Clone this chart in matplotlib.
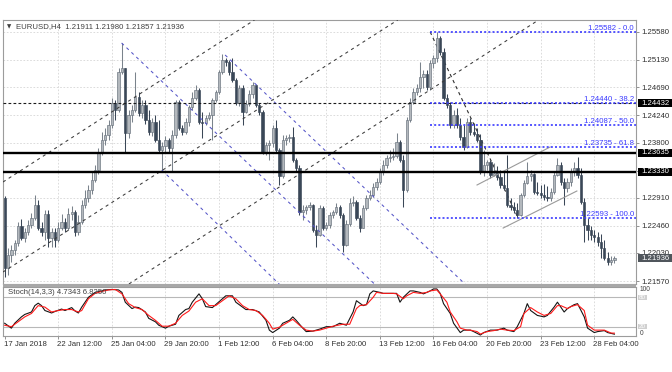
import numpy as np
import matplotlib
matplotlib.use("Agg")
import matplotlib.pyplot as plt
from matplotlib import transforms
from matplotlib.patches import Rectangle

plt.rcParams['font.family'] = ['Liberation Sans', 'DejaVu Sans']

# ---------------- data (EURUSD H4) ----------------
first_open = 1.22907
closes = [1.21780, 1.21990, 1.22070, 1.22183, 1.22456, 1.22263, 1.22360, 1.22473, 1.22585, 1.22795,
          1.22424, 1.22360, 1.22650, 1.22263, 1.22360, 1.22231, 1.22424, 1.22521, 1.22424, 1.22650,
          1.22682, 1.22360, 1.22521, 1.22795, 1.22907, 1.23036, 1.23197, 1.23358, 1.23648, 1.23841,
          1.23922, 1.24083, 1.24437, 1.24324, 1.24936, 1.25000, 1.23954, 1.24244, 1.24324, 1.24533,
          1.24276, 1.24405, 1.24163, 1.23970, 1.24131, 1.23841, 1.23680, 1.23744, 1.23841, 1.23712,
          1.23922, 1.24453, 1.24034, 1.23970, 1.24131, 1.24372, 1.24517, 1.24646, 1.24131, 1.24115,
          1.24195, 1.24244, 1.24485, 1.24614, 1.24936, 1.25129, 1.25097, 1.24936, 1.24807, 1.24437,
          1.24678, 1.24292, 1.24421, 1.24582, 1.24727, 1.24405, 1.24292, 1.23648, 1.23761, 1.23793,
          1.24034, 1.23680, 1.23261, 1.23841, 1.23873, 1.23889, 1.23519, 1.23390, 1.22682, 1.22714,
          1.22762, 1.22795, 1.22392, 1.22312, 1.22746, 1.22424, 1.22473, 1.22634, 1.22682, 1.22762,
          1.22634, 1.22151, 1.22489, 1.22827, 1.22843, 1.22585, 1.22424, 1.22746, 1.22907, 1.22956,
          1.23084, 1.23165, 1.23326, 1.23439, 1.23551, 1.23568, 1.23584, 1.23809, 1.23519, 1.23036,
          1.24163, 1.24453, 1.24614, 1.24678, 1.24855, 1.24904, 1.24694, 1.25081, 1.25161, 1.25483,
          1.25258, 1.24517, 1.24405, 1.24083, 1.24244, 1.24083, 1.23889, 1.23728, 1.24131, 1.23970,
          1.23938, 1.23841, 1.23326, 1.23439, 1.23487, 1.23278, 1.23310, 1.23245, 1.23117, 1.23068,
          1.22795, 1.22762, 1.22714, 1.22634, 1.22956, 1.23149, 1.23261, 1.23294, 1.23004, 1.22988,
          1.22956, 1.22923, 1.22907, 1.23004, 1.23278, 1.23439, 1.23165, 1.23068, 1.23165, 1.23326,
          1.23390, 1.23278, 1.22843, 1.22473, 1.22392, 1.22312, 1.22279, 1.22199, 1.22102, 1.21941,
          1.21877, 1.21911, 1.21936]
highs = [1.22939, 1.22102, 1.22151, 1.22231, 1.22521, 1.22569, 1.22424, 1.22553, 1.22666, 1.22956,
         1.22875, 1.22521, 1.22714, 1.22714, 1.22424, 1.22424, 1.22521, 1.22650, 1.22585, 1.22746,
         1.22778, 1.22714, 1.22634, 1.22875, 1.23036, 1.23117, 1.23326, 1.23439, 1.23712, 1.23970,
         1.24034, 1.24163, 1.24517, 1.24485, 1.25000, 1.25403, 1.25000, 1.24324, 1.24405, 1.24936,
         1.24614, 1.24485, 1.24485, 1.24324, 1.24195, 1.24244, 1.24163, 1.23809, 1.23905, 1.23873,
         1.24002, 1.24485, 1.24485, 1.24083, 1.24195, 1.24405, 1.24614, 1.24727, 1.24678, 1.24292,
         1.24244, 1.24292, 1.24517, 1.24646, 1.24968, 1.25226, 1.25161, 1.25129, 1.25161, 1.24839,
         1.24727, 1.24727, 1.24485, 1.24646, 1.24775, 1.24727, 1.24437, 1.24324, 1.23809, 1.23841,
         1.24083, 1.24163, 1.23712, 1.23922, 1.23922, 1.23938, 1.24050, 1.23551, 1.23439, 1.22795,
         1.22795, 1.22843, 1.22811, 1.22473, 1.22795, 1.22778, 1.22521, 1.22682, 1.22714, 1.22827,
         1.22795, 1.22666, 1.22553, 1.22907, 1.22939, 1.22875, 1.22634, 1.22795, 1.22956, 1.23036,
         1.23149, 1.23229, 1.23390, 1.23519, 1.23600, 1.23680, 1.23712, 1.23954, 1.23841, 1.23600,
         1.24211, 1.24517, 1.24678, 1.24743, 1.25097, 1.24968, 1.24968, 1.25129, 1.25210, 1.25582,
         1.25515, 1.25322, 1.24582, 1.24453, 1.24324, 1.24356, 1.24195, 1.24083, 1.24195, 1.24195,
         1.24115, 1.24034, 1.23938, 1.23680, 1.23519, 1.23519, 1.23471, 1.23423, 1.23358, 1.23326,
         1.23600, 1.22907, 1.22843, 1.22827, 1.22988, 1.23197, 1.23487, 1.23358, 1.23310, 1.23165,
         1.23117, 1.23133, 1.23100, 1.23068, 1.23326, 1.23551, 1.23487, 1.23229, 1.23229, 1.23390,
         1.23487, 1.23568, 1.23390, 1.22907, 1.22585, 1.22456, 1.22392, 1.22360, 1.22328, 1.22231,
         1.22038, 1.21974, 1.21980]
lows = [1.21636, 1.21668, 1.21877, 1.21990, 1.22134, 1.22231, 1.22199, 1.22312, 1.22424, 1.22553,
        1.22392, 1.22295, 1.22231, 1.22118, 1.22118, 1.22118, 1.22199, 1.22392, 1.22360, 1.22392,
        1.22553, 1.22295, 1.22312, 1.22489, 1.22746, 1.22843, 1.22972, 1.23165, 1.23294, 1.23600,
        1.23761, 1.23841, 1.24034, 1.24163, 1.24292, 1.24904, 1.23648, 1.23873, 1.24131, 1.24292,
        1.24228, 1.24195, 1.24099, 1.23922, 1.23905, 1.23809, 1.23648, 1.23326, 1.23648, 1.23648,
        1.23326, 1.23873, 1.24002, 1.23922, 1.23938, 1.24066, 1.24324, 1.24485, 1.24099, 1.23873,
        1.24083, 1.24163, 1.23841, 1.24453, 1.24582, 1.24904, 1.25033, 1.24888, 1.24775, 1.24405,
        1.24389, 1.24083, 1.24276, 1.24389, 1.24517, 1.24372, 1.24244, 1.23616, 1.23600, 1.23519,
        1.23728, 1.23648, 1.23117, 1.23229, 1.23761, 1.23809, 1.23487, 1.23326, 1.22634, 1.22553,
        1.22650, 1.22714, 1.22360, 1.22118, 1.22295, 1.22392, 1.22392, 1.22424, 1.22585, 1.22650,
        1.22585, 1.22038, 1.22134, 1.22456, 1.22778, 1.22553, 1.22360, 1.22424, 1.22714, 1.22875,
        1.22923, 1.23036, 1.23133, 1.23278, 1.23390, 1.23487, 1.23519, 1.23551, 1.23487, 1.22762,
        1.23004, 1.24131, 1.24421, 1.24566, 1.24614, 1.24678, 1.24646, 1.24646, 1.25000, 1.25097,
        1.25210, 1.24485, 1.24356, 1.24034, 1.24034, 1.24034, 1.23841, 1.23680, 1.23712, 1.23922,
        1.23905, 1.23809, 1.23294, 1.23261, 1.23358, 1.23229, 1.23261, 1.23197, 1.23068, 1.23036,
        1.22762, 1.22714, 1.22666, 1.22585, 1.22617, 1.22923, 1.23133, 1.23181, 1.22972, 1.22956,
        1.22907, 1.22875, 1.22859, 1.22859, 1.22972, 1.23261, 1.23117, 1.22795, 1.23004, 1.23100,
        1.23261, 1.23229, 1.22811, 1.22199, 1.22231, 1.22231, 1.22199, 1.22134, 1.21941, 1.21909,
        1.21829, 1.21829, 1.21857]

# Stochastic (14,3,3) readings: bar index -> value
k_bars = [0, 2, 3, 5, 6, 8, 9, 10, 11, 12, 14, 15, 17, 18, 20, 21, 22, 23, 25, 27, 29, 30, 32, 34, 35, 36,
          38, 39, 40, 42, 43, 45, 46, 48, 49, 51, 52, 54, 55, 56, 58, 59, 60, 62, 63, 65, 66, 68, 69, 71,
          72, 74, 76, 78, 79, 80, 82, 83, 85, 86, 87, 89, 90, 92, 94, 96, 98, 100, 102, 104, 105, 107, 108,
          109, 110, 112, 113, 115, 117, 118, 119, 121, 122, 124, 125, 127, 128, 129, 130, 131, 133, 134,
          136, 137, 139, 140, 142, 143, 145, 147, 149, 150, 152, 153, 155, 156, 157, 159, 161, 162, 164,
          165, 167, 168, 170, 171, 173, 174, 176, 177, 179, 180, 182]
k_vals = [27, 17, 27, 40, 45, 50, 63, 68, 63, 53, 48, 51, 56, 53, 59, 52, 48, 60, 80, 90, 93, 95, 96, 95, 90, 70,
          57, 60, 59, 50, 37, 30, 23, 17, 21, 25, 43, 55, 57, 70, 87, 77, 61, 59, 65, 77, 83, 83, 70, 60,
          55, 55, 50, 33, 13, 8, 17, 27, 33, 40, 33, 17, 10, 11, 15, 20, 20, 27, 23, 50, 73, 63, 65,
          87, 93, 90, 88, 88, 88, 70, 80, 93, 93, 90, 87, 93, 97, 97, 88, 67, 47, 27,
          8, 13, 13, 10, 3, 8, 13, 13, 17, 13, 10, 20, 47, 67, 53, 43, 40, 43, 60,
          70, 50, 57, 65, 67, 40, 17, 8, 10, 12, 8, 4.7343]
d_bars = [0, 2, 4, 6, 8, 10, 12, 14, 16, 18, 20, 22, 23, 25, 27, 29, 31, 33, 35, 37, 39, 41, 43, 45, 47, 49,
          51, 53, 55, 57, 59, 61, 63, 65, 67, 69, 71, 73, 75, 77, 79, 80, 82, 84, 86, 88, 90, 92, 94, 97,
          98, 101, 103, 105, 106, 108, 110, 111, 113, 116, 117, 119, 120, 122, 124, 126, 127, 129, 130,
          132, 133, 135, 136, 138, 139, 141, 142, 144, 146, 148, 150, 152, 154, 155, 157, 159, 161, 163,
          165, 166, 168, 169, 171, 173, 174, 176, 177, 179, 181, 182]
d_vals = [23, 20, 30, 40, 47, 63, 60, 50, 53, 55, 55, 50, 53, 77, 88, 92, 95, 96, 87, 67, 59, 55, 43, 33, 21, 21,
          27, 43, 52, 70, 77, 63, 63, 73, 83, 77, 63, 55, 53, 43, 27, 15, 19, 27, 35, 23, 13, 11, 13, 19,
          21, 25, 25, 57, 63, 65, 80, 90, 88, 88, 87, 77, 83, 90, 88, 90, 93, 95, 87,
          70, 50, 30, 17, 13, 13, 10, 5, 10, 12, 15, 13, 12, 20, 47, 59, 50, 43, 47,
          63, 63, 57, 61, 65, 53, 23, 13, 13, 13, 7, 6.8250]

tick_bars = [0, 16, 32, 48, 64, 80, 96, 112, 128, 144, 160, 176]
tick_labels = ["17 Jan 2018", "22 Jan 12:00", "25 Jan 04:00", "29 Jan 20:00", "1 Feb 12:00",
               "6 Feb 04:00", "8 Feb 20:00", "13 Feb 12:00", "16 Feb 04:00", "20 Feb 20:00",
               "23 Feb 12:00", "28 Feb 04:00"]
price_ticks = [1.25580, 1.25130, 1.24690, 1.24240, 1.23800, 1.23350, 1.22910, 1.22460, 1.22030, 1.21570]

hline_dotted = 1.24432
hlines_solid = [1.23635, 1.23330]
current_price = 1.21936

fib_start_bar = 127.0
fib_levels = [1.25582, 1.24440, 1.24087, 1.23735, 1.22593]
fib_names = ["0.0", "38.2", "50.0", "61.8", "100.0"]
fib_diag = [(127.0, 1.25582), (153.2, 1.22593)]

# ascending channel (black dashed) - two points each
up_channel = [[(-0.5, 1.23165), (74.1, 1.25757)],
              [(-0.5, 1.21716), (115.0, 1.25693)],
              [(37.4, 1.21534), (158.9, 1.25757)]]
# descending channel (blue dashed) - start and end points
down_channel = [[(34.9, 1.25403), (112.0, 1.21440)],
                [(65.8, 1.25210), (139.0, 1.21440)],
                [(46.9, 1.23358), (83.5, 1.21440)]]
# rising wedge (gray solid)
wedge = [[(141.0, 1.23117), (162.8, 1.23728)],
         [(148.8, 1.22424), (170.8, 1.23020)]]

# ---------------- figure ----------------
W, H = 672, 372
fig = plt.figure(figsize=(W / 100, H / 100), dpi=100)
fig.patch.set_facecolor('white')

def rect(x0, y0, x1, y1):
    return [x0 / W, 1 - y1 / H, (x1 - x0) / W, (y1 - y0) / H]

ax = fig.add_axes(rect(3, 20, 636, 284))
ax2 = fig.add_axes(rect(3, 287, 636, 336))

n = len(closes)
x = np.arange(n)
opens = [first_open] + closes[:-1]
o = np.array(opens); c = np.array(closes)
hi = np.maximum(np.array(highs), np.maximum(o, c))
lo = np.minimum(np.array(lows), np.minimum(o, c))

XMIN, XMAX = -0.5, 188.45
YMIN, YMAX = 1.21523, 1.25773
ax.set_xlim(XMIN, XMAX)
ax.set_ylim(YMIN, YMAX)
ax2.set_xlim(XMIN, XMAX)
ax2.set_ylim(1.0, 101.0)

grid_kw = dict(color='#d6d6d6', lw=0.6, linestyle=(0, (2, 2)), zorder=0)
for p in price_ticks:
    ax.axhline(p, **grid_kw)
for b in tick_bars[1:]:
    ax.axvline(b, **grid_kw)
    ax2.axvline(b, **grid_kw)

# candles
bull = c >= o
bull_fc, bull_ec, bull_wick = '#b3b8bd', '#66707b', '#7a838c'
bear_c = '#3a4757'
ax.vlines(x[bull], lo[bull], hi[bull], color=bull_wick, lw=0.75, zorder=2)
ax.vlines(x[~bull], lo[~bull], hi[~bull], color=bear_c, lw=0.75, zorder=2)
body_h = np.maximum(np.abs(c - o), 0.00008)
body_b = np.minimum(o, c)
ax.bar(x[bull], body_h[bull], bottom=body_b[bull], width=0.68, color=bull_fc,
       edgecolor=bull_ec, linewidth=0.45, zorder=3)
ax.bar(x[~bull], body_h[~bull], bottom=body_b[~bull], width=0.68, color=bear_c,
       edgecolor=bear_c, linewidth=0.45, zorder=3)

# fib diagonal (behind candles)
ax.plot([fib_diag[0][0], fib_diag[1][0]], [fib_diag[0][1], fib_diag[1][1]],
        color='#303030', lw=0.8, dashes=(3, 3), zorder=1)

# ascending channel lines
for (p1, p2) in up_channel:
    ax.axline(p1, p2, color='#3a3a3a', lw=0.75, dashes=(3, 3.5), zorder=4)
# descending channel
for (p1, p2) in down_channel:
    ax.plot([p1[0], p2[0]], [p1[1], p2[1]], color='#5555c8', lw=0.75, dashes=(3, 3.5), zorder=4)
# wedge
for (p1, p2) in wedge:
    ax.plot([p1[0], p2[0]], [p1[1], p2[1]], color='#9a9a9a', lw=0.8, zorder=4)

# horizontal lines
ax.axhline(hline_dotted, color='#1a1a1a', lw=0.8, dashes=(2.5, 2), zorder=5)
for p in hlines_solid:
    ax.axhline(p, color='black', lw=1.7, zorder=5)

# fib levels
trans_fx = transforms.blended_transform_factory(fig.transFigure, ax.transData)
for lvl, name in zip(fib_levels, fib_names):
    ax.plot([fib_start_bar, XMAX], [lvl, lvl], color='#3a3aff', lw=1.2,
            linestyle=(0, (1.2, 1.3)), zorder=5)
    ax.text(634 / W, lvl, f"{lvl:.5f} - {name}", transform=trans_fx, ha='right',
            va='bottom', fontsize=5.6, color='#3a3aff', zorder=6)

# spines
for a in (ax, ax2):
    for s in a.spines.values():
        s.set_color('#9c9c9c')
        s.set_linewidth(0.8)

# price axis
ax.yaxis.tick_right()
ax.set_yticks(price_ticks)
ax.set_yticklabels([f"{p:.5f}" for p in price_ticks])
ax.tick_params(axis='y', labelsize=5.6, length=2.2, width=0.6, color='#808080',
               labelcolor='#303030', pad=1.6)
ax.set_xticks([])

# price boxes
box_h = 8 * (YMAX - YMIN) / 264.0
def price_box(price, fc, tc='white'):
    ax.add_patch(Rectangle((638 / W, price - box_h / 2), (672 - 638) / W, box_h,
                           transform=trans_fx, facecolor=fc, edgecolor='none',
                           clip_on=False, zorder=20))
    ax.text(641 / W, price, f"{price:.5f}", transform=trans_fx, ha='left', va='center',
            fontsize=5.6, color=tc, clip_on=False, zorder=21)

price_box(hline_dotted, 'black')
for p in hlines_solid:
    price_box(p, 'black')
price_box(current_price, '#50565c')

# stochastic
ax2.axhline(80, color='#b8b8b8', lw=0.8, zorder=1)
ax2.axhline(20, color='#b8b8b8', lw=0.8, zorder=1)
ax2.plot(k_bars, k_vals, color='#151515', lw=0.8, zorder=3)
ax2.plot(d_bars, d_vals, color='#ff1a1a', lw=0.8, zorder=4)
ax2.set_yticks([])
ax2.set_xticks(tick_bars)
ax2.set_xticklabels(tick_labels)
ax2.tick_params(axis='x', labelsize=5.6, length=2, width=0.6, color='#808080',
                labelcolor='#303030', pad=1.5)
offset = transforms.ScaledTranslation(-1 / 100, 0, fig.dpi_scale_trans)
for lbl in ax2.get_xticklabels():
    lbl.set_ha('left')
    lbl.set_transform(lbl.get_transform() + offset)

trans_fs = transforms.blended_transform_factory(fig.transFigure, ax2.transData)
fig.text(640 / W, 1 - 289.5 / H, "100", fontsize=4.8, color='#404040', va='center', ha='left')
fig.text(640 / W, 1 - 333.5 / H, "0", fontsize=4.8, color='#404040', va='center', ha='left')
for lv in (80, 20):
    ax2.add_patch(Rectangle((638 / W, lv - 5.5), 9 / W, 11, transform=trans_fs,
                            facecolor='#d0d0d0', edgecolor='none', clip_on=False, zorder=20))
    ax2.text(638.6 / W, lv, str(lv), transform=trans_fs, ha='left', va='center',
             fontsize=4.6, color='white', clip_on=False, zorder=21)

# separator between panels
fig.patches.append(Rectangle((3 / W, 1 - 287 / H), 633 / W, 3 / H, transform=fig.transFigure,
                             facecolor='#a8a8a8', edgecolor='none'))

# titles
fig.text(7 / W, 1 - 27 / H, "\u25bc", fontsize=4, color='#404040', va='center', ha='left',
         family='DejaVu Sans')
fig.text(16 / W, 1 - 27 / H, "EURUSD,H4  1.21911 1.21980 1.21857 1.21936", fontsize=5.6,
         color='#404040', va='center', ha='left')
fig.text(7.5 / W, 1 - 292.7 / H, "Stoch(14,3,3) 4.7343 6.8250", fontsize=5.6,
         color='#404040', va='center', ha='left')

fig.savefig("out.png", dpi=100, facecolor='white')
